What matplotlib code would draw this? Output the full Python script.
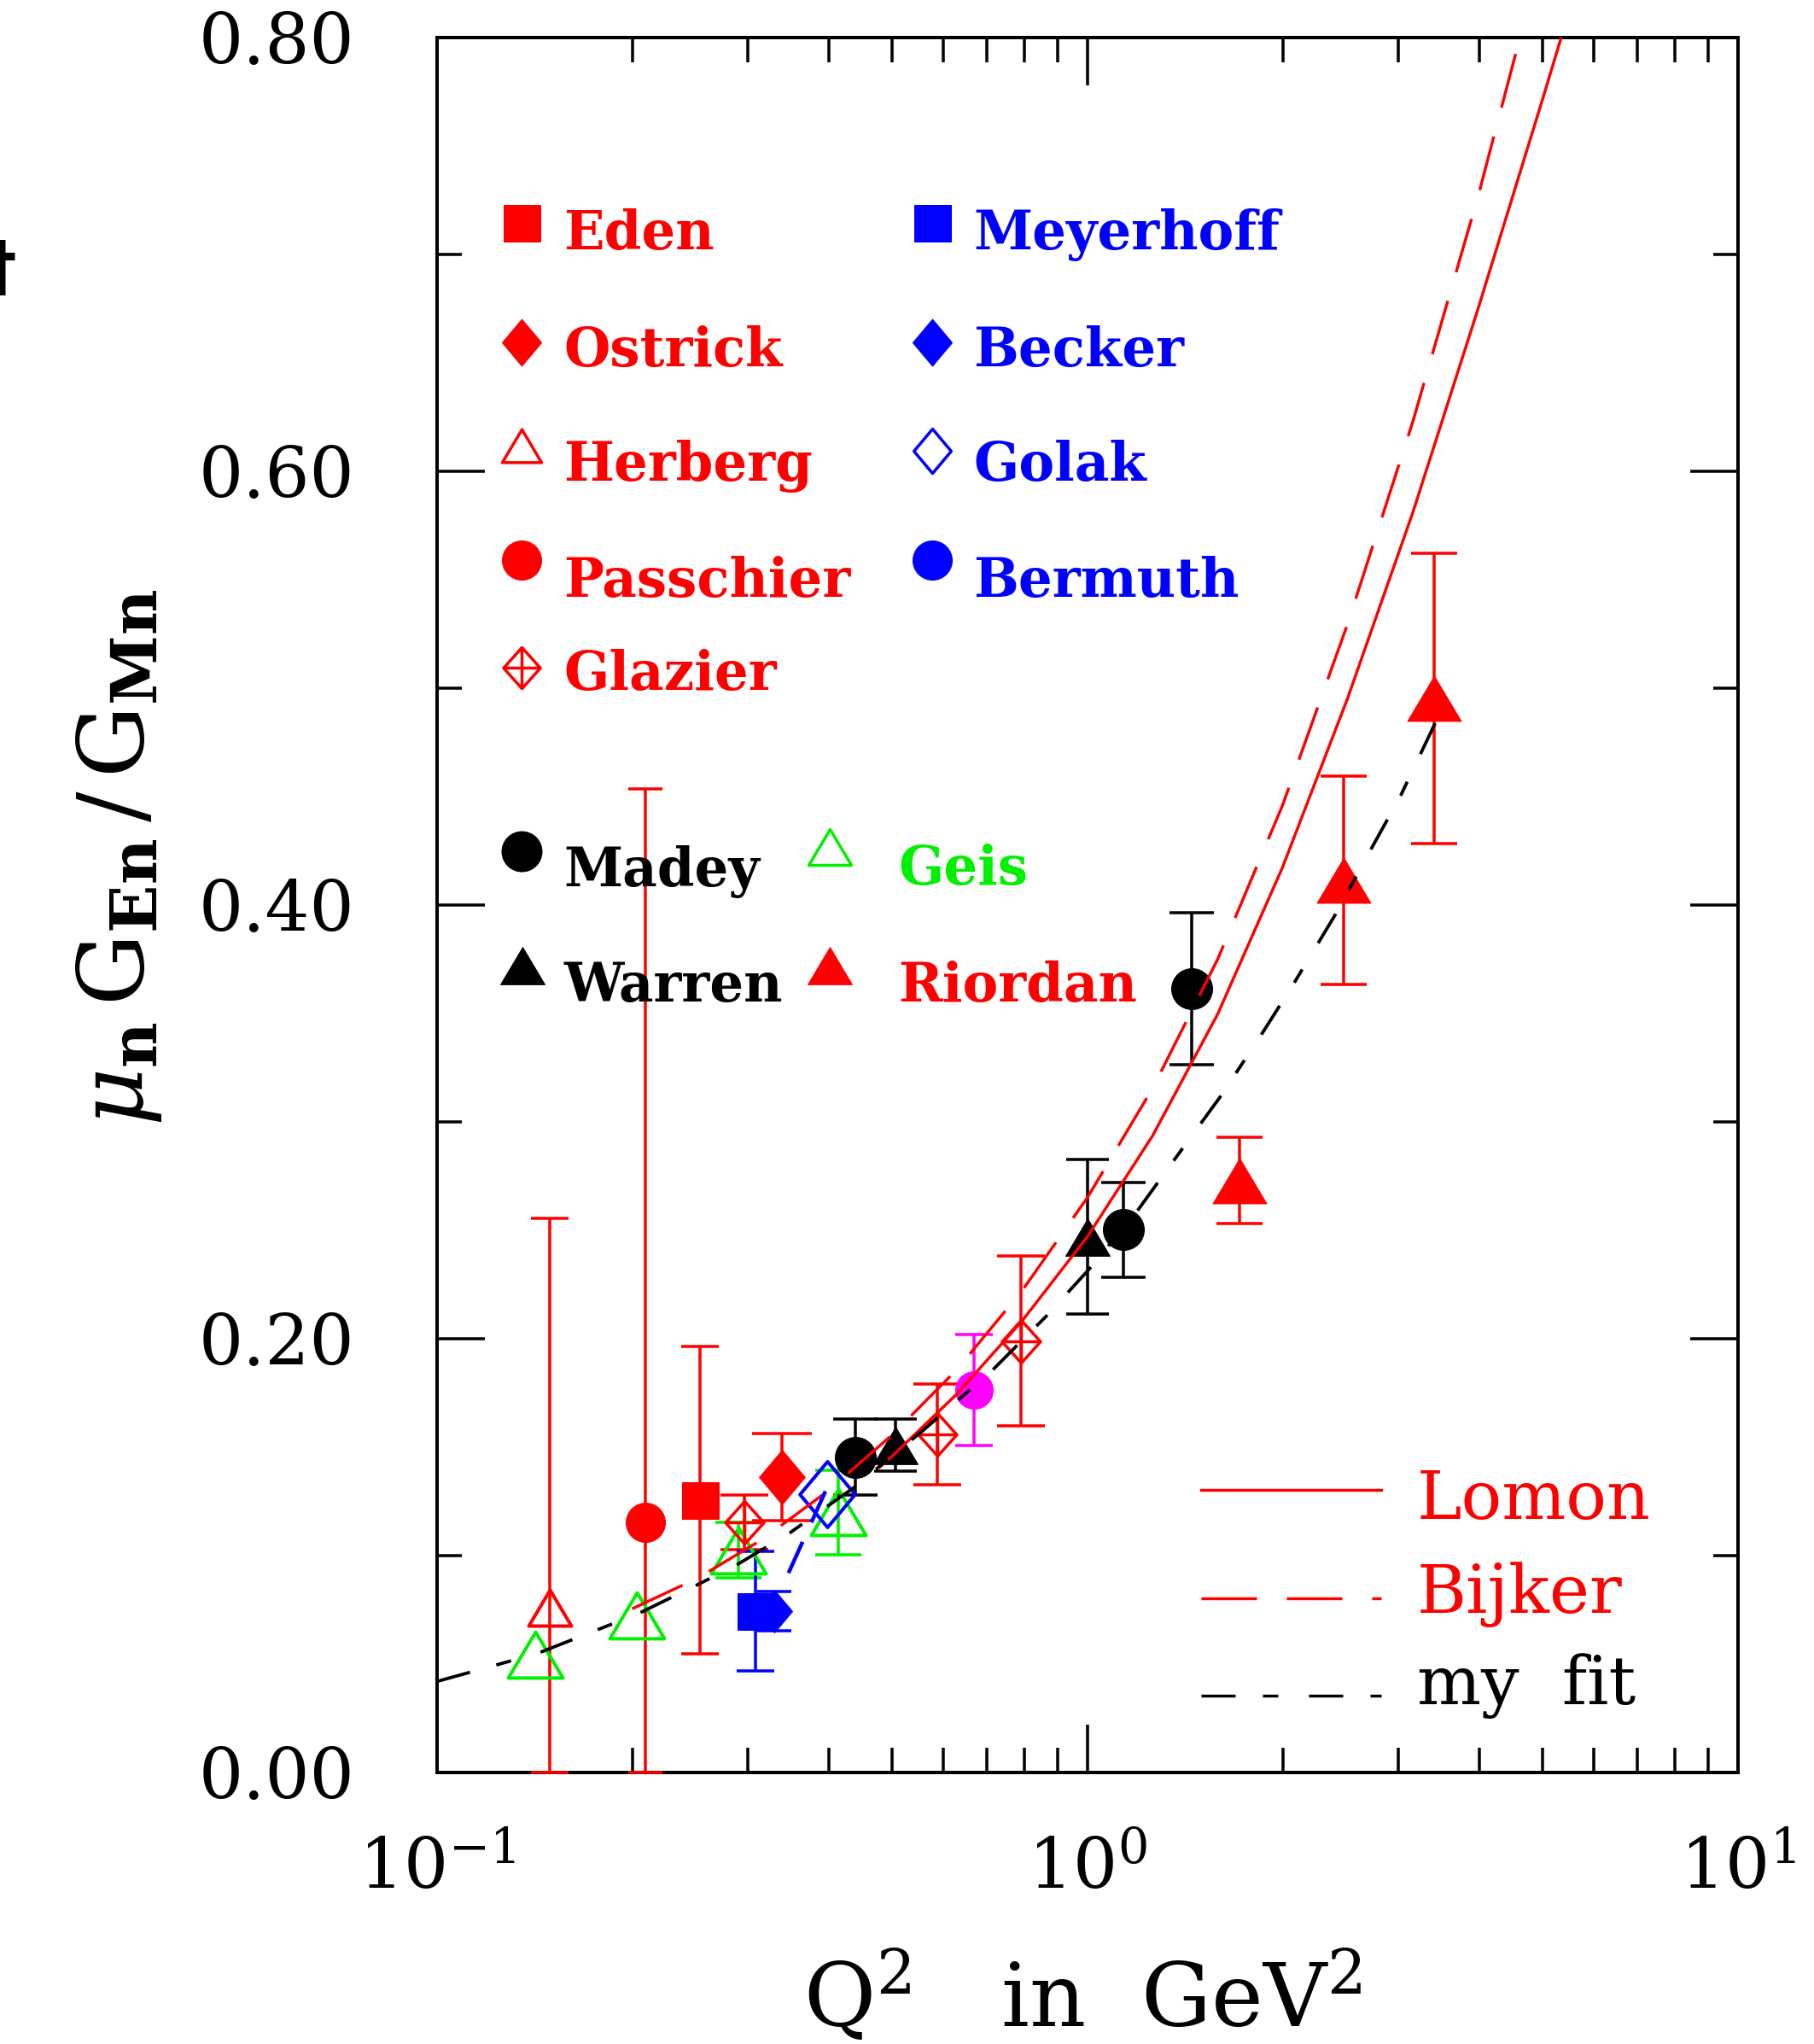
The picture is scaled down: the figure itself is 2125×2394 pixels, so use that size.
import matplotlib
matplotlib.use("Agg")
import matplotlib.pyplot as plt
from matplotlib.path import Path
from matplotlib.lines import Line2D
from matplotlib.ticker import FixedLocator, FixedFormatter, NullFormatter

W, H, DPI = 2125, 2394, 100

plt.rcParams["font.family"] = ["DejaVu Serif"]
plt.rcParams["mathtext.fontset"] = "dejavuserif"
plt.rcParams["lines.scale_dashes"] = False

RED = "#ff0000"
BLUE = "#0000ff"
GREEN = "#00f000"
MAGENTA = "#ff00ff"
BLACK = "#000000"

# ---------------- data: Q^2 [GeV^2] and mu_n G_En / G_Mn ----------------
eden_q2 = [0.254]
eden_val = [0.1257]
eden_err = [0.0709]

ostrick_q2 = [0.339]
ostrick_val = [0.1362]
ostrick_err = [0.020]

herberg_q2 = [0.149]
herberg_val = [0.076]
herberg_err_lo = [0.076]
herberg_err_hi = [0.1795]

passchier_q2 = [0.209]
passchier_val = [0.1152]
passchier_err_lo = [0.1152]
passchier_err_hi = [0.3385]

glazier_q2 = [0.297, 0.588, 0.789]
glazier_val = [0.1153, 0.1559, 0.199]
glazier_err = [0.0125, 0.0234, 0.039]

meyerhoff_q2 = [0.309]
meyerhoff_val = [0.0745]
meyerhoff_err = [0.0275]

becker_q2 = [0.33]
becker_val = [0.0745]
becker_err = [0.009]

golak_q2 = [0.398]
golak_val = [0.1283]

bermuth_q2 = [0.67]
bermuth_val = [0.1763]
bermuth_err = [0.0257]

madey_q2 = [0.44, 1.134, 1.445]
madey_val = [0.1454, 0.2502, 0.3613]
madey_err = [0.0175, 0.0217, 0.035]

warren_q2 = [0.507, 1.0]
warren_val = [0.1508, 0.247]
warren_err = [0.012, 0.0357]

geis_q2 = [0.1416, 0.2026, 0.291, 0.414]
geis_val = [0.0543, 0.0726, 0.1025, 0.120]
geis_err = [0.0, 0.0, 0.0128, 0.0195]

riordan_q2 = [1.714, 2.476, 3.41]
riordan_val = [0.273, 0.4114, 0.4954]
riordan_err = [0.020, 0.048, 0.067]

# model curves
lomon_q2 = [0.48, 0.501, 0.631, 0.794, 1.0, 1.259, 1.585, 1.995, 2.512, 3.162,
            3.981, 5.012, 5.623]
lomon_val = [0.141, 0.1459, 0.1748, 0.2084, 0.2472, 0.2936, 0.3497, 0.4175, 0.4955,
             0.5809, 0.6746, 0.772, 0.8218]

bijker_q2 = [0.1995, 0.2512, 0.3162, 0.3981, 0.5012, 0.631, 0.7943, 1.0, 1.259,
             1.585, 1.995, 2.512, 3.162, 3.981, 5.012]
bijker_val = [0.0755, 0.0895, 0.1075, 0.1296, 0.1558, 0.1861, 0.2224, 0.2652, 0.3155,
              0.375, 0.4461, 0.5298, 0.6228, 0.7264, 0.8401]

fit_q2 = [0.1, 0.1424, 0.2037, 0.2503, 0.288, 0.349, 0.394, 0.4356, 0.56, 0.7135,
          0.864, 1.005, 1.193, 1.36, 1.598, 1.839, 2.076, 2.402, 2.711, 3.03, 3.45]
fit_val = [0.042, 0.0548, 0.0732, 0.0863, 0.0955, 0.1106, 0.1218, 0.131, 0.158, 0.1854,
           0.2104, 0.232, 0.259, 0.2826, 0.3114, 0.339, 0.3639, 0.3954, 0.4243, 0.4505, 0.486]

golak_curve_q2 = [0.347, 0.40]
golak_curve_val = [0.092, 0.133]

yticks = [0.0, 0.2, 0.4, 0.6, 0.8]
ytick_labels = ["0.00", "0.20", "0.40", "0.60", "0.80"]
yticks_minor = [0.1, 0.3, 0.5, 0.7]
xticks = [0.1, 1.0, 10.0]
xtick_labels = [r"$10^{-1}$", r"$10^{0}$", r"$10^{1}$"]
xticks_minor = [m * d for d in (0.1, 1.0) for m in range(2, 10)]


def pt(px):
    """pixels -> points"""
    return px * 72.0 / DPI


def fxy(x, y):
    """pixel position (from top-left) -> figure fraction"""
    return x / W, 1.0 - y / H


# marker shapes
TRI = Path([(0, 0.42), (-0.5, -0.42), (0.5, -0.42), (0, 0.42)],
           [Path.MOVETO, Path.LINETO, Path.LINETO, Path.CLOSEPOLY])
DIAM = Path([(0, 0.5), (0.42, 0), (0, -0.5), (-0.42, 0), (0, 0.5)],
            [Path.MOVETO, Path.LINETO, Path.LINETO, Path.LINETO, Path.CLOSEPOLY])
XDIAM = Path([(0, 0.5), (0.45, 0), (0, -0.5), (-0.45, 0), (0, 0.5),
              (0, 0.5), (0, -0.5), (-0.45, 0), (0.45, 0)],
             [Path.MOVETO, Path.LINETO, Path.LINETO, Path.LINETO, Path.CLOSEPOLY,
              Path.MOVETO, Path.LINETO, Path.MOVETO, Path.LINETO])

fig = plt.figure(figsize=(W / DPI, H / DPI), dpi=DPI)
ax = fig.add_axes([512 / W, 1 - 2076 / H, (2036 - 512) / W, (2076 - 44) / H])
ax.set_xscale("log")
ax.set_xlim(0.1, 10)
ax.set_ylim(0.0, 0.8)

ax.yaxis.set_major_locator(FixedLocator(yticks))
ax.yaxis.set_major_formatter(FixedFormatter(ytick_labels))
ax.yaxis.set_minor_locator(FixedLocator(yticks_minor))
ax.xaxis.set_major_locator(FixedLocator(xticks))
ax.xaxis.set_major_formatter(FixedFormatter(xtick_labels))
ax.xaxis.set_minor_locator(FixedLocator(xticks_minor))
ax.xaxis.set_minor_formatter(NullFormatter())

for s in ax.spines.values():
    s.set_linewidth(pt(4))
ax.tick_params(which="both", direction="in", top=True, right=True, width=pt(3.5))
ax.tick_params(which="major", length=pt(56))
ax.tick_params(which="minor", length=pt(29))
ax.tick_params(axis="y", which="major", labelsize=59, pad=pt(97))
ax.tick_params(axis="x", which="major", labelsize=59, pad=pt(74))


def draw_points(q2, val, lo, hi, color, marker, ms_px, filled, cap_px=25, mew_px=4):
    for q, v, l, h in zip(q2, val, lo, hi):
        if l > 0 or h > 0:
            ax.errorbar([q], [v], yerr=[[l], [h]], fmt="none", ecolor=color,
                        elinewidth=pt(3.5), capsize=pt(cap_px), capthick=pt(3.5),
                        zorder=3, clip_on=False)
    ax.plot(q2, val, ls="none", marker=marker, ms=pt(ms_px),
            mfc=color if filled else "none", mec=color,
            mew=pt(1.0) if filled else pt(mew_px), zorder=4)


draw_points(herberg_q2, herberg_val, herberg_err_lo, herberg_err_hi, RED, TRI, 50, False, cap_px=22)
draw_points(passchier_q2, passchier_val, passchier_err_lo, passchier_err_hi, RED, "o", 46, True, cap_px=20)
draw_points(eden_q2, eden_val, eden_err, eden_err, RED, "s", 43, True, cap_px=22)
draw_points(geis_q2, geis_val, geis_err, geis_err, GREEN, TRI, 64, False, cap_px=27)
draw_points(glazier_q2, glazier_val, glazier_err, glazier_err, RED, XDIAM, 50, False, cap_px=28, mew_px=3.5)
draw_points(meyerhoff_q2, meyerhoff_val, meyerhoff_err, meyerhoff_err, BLUE, "s", 43, True, cap_px=22)
draw_points(becker_q2, becker_val, becker_err, becker_err, BLUE, DIAM, 50, True, cap_px=20)
draw_points(ostrick_q2, ostrick_val, ostrick_err, ostrick_err, RED, DIAM, 64, True, cap_px=35)
draw_points(golak_q2, golak_val, [0], [0], BLUE, DIAM, 77, False, mew_px=4)
draw_points(bermuth_q2, bermuth_val, bermuth_err, bermuth_err, MAGENTA, "o", 44, True, cap_px=22)
draw_points(madey_q2, madey_val, madey_err, madey_err, BLACK, "o", 48, True, cap_px=26)
draw_points(warren_q2, warren_val, warren_err, warren_err, BLACK, TRI, 52, True, cap_px=25)
draw_points(riordan_q2, riordan_val, riordan_err, riordan_err, RED, TRI, 63, True, cap_px=27)

# model curves
LW = pt(3.4)
BIJKER_DASH = (pt(65), pt(35))
FIT_DASH = (pt(40), pt(32), pt(18), pt(36))
ax.plot(lomon_q2, lomon_val, color=RED, lw=LW, zorder=5)
ax.plot(bijker_q2, bijker_val, color=RED, lw=LW, dashes=BIJKER_DASH, zorder=5)
ax.plot(fit_q2, fit_val, color=BLACK, lw=pt(3.8), dashes=FIT_DASH, zorder=5)
ax.plot(golak_curve_q2, golak_curve_val, color=BLUE, lw=pt(4.5), dashes=(pt(40), pt(25)), zorder=5)

# ---------------- legends ----------------
LEG_FS = 45


def leg_marker(x, y, marker, color, ms_px, filled, mew_px=4):
    fx, fy = fxy(x, y)
    fig.add_artist(Line2D([fx], [fy], transform=fig.transFigure, ls="none",
                          marker=marker, ms=pt(ms_px),
                          mfc=color if filled else "none", mec=color,
                          mew=pt(1.0) if filled else pt(mew_px)))


def leg_text(x, y, s, color, bold=True, fs=LEG_FS):
    fx, fy = fxy(x, y)
    fig.text(fx, fy, s, color=color, fontsize=fs, va="baseline", ha="left",
             fontweight="bold" if bold else "normal")


left_entries = [("Eden", "s", 43, True, 261, 292),
                ("Ostrick", DIAM, 55, True, 401, 429),
                ("Herberg", TRI, 46, False, 522, 563),
                ("Passchier", "o", 46, True, 656, 699),
                ("Glazier", XDIAM, 48, False, 782, 808)]
for name, mk, ms, filled, my, ty in left_entries:
    leg_marker(611, my, mk, RED, ms, filled, mew_px=3.5)
    leg_text(660, ty, name, RED)

right_entries = [("Meyerhoff", "s", 43, True, 261, 292),
                 ("Becker", DIAM, 55, True, 401, 429),
                 ("Golak", DIAM, 52, False, 528, 563),
                 ("Bermuth", "o", 46, True, 656, 699)]
for name, mk, ms, filled, my, ty in right_entries:
    leg_marker(1092, my, mk, BLUE, ms, filled, mew_px=3.5)
    leg_text(1140, ty, name, BLUE)

leg_marker(611, 997, "o", BLACK, 47, True)
leg_text(660, 1038, "Madey", BLACK)
leg_marker(612, 1131, TRI, BLACK, 52, True)
leg_text(660, 1173, "Warren", BLACK)
leg_marker(972, 992, TRI, GREEN, 50, False, mew_px=3.5)
leg_text(1052, 1036, "Geis", GREEN)
leg_marker(972, 1131, TRI, RED, 52, True)
leg_text(1052, 1173, "Riordan", RED)

# curve key
for ly, ty, label, color, dash in [(1745, 1779, "Lomon", RED, None),
                                    (1872, 1889, "Bijker", RED, BIJKER_DASH),
                                    (1986, 1996, "my  fit", BLACK, FIT_DASH)]:
    x0, y0 = fxy(1407, ly)
    x1, _ = fxy(1618, ly)
    ln = Line2D([x0, x1], [y0, y0], transform=fig.transFigure, color=color, lw=LW)
    if dash is not None:
        ln.set_dashes(dash)
    fig.add_artist(ln)
    leg_text(1660, ty, label, color, bold=False, fs=57)

# axis titles
fx, fy = fxy(1268, 2374)
fig.text(fx, fy, r"Q$^{2}$   in  GeV$^{2}$", fontsize=74, ha="center", va="baseline")
fx, fy = fxy(140, 1004)
fig.text(fx, fy, r"$\mu_{\mathbf{n}}\,\mathrm{G}_{\mathbf{En}}\,/\,\mathrm{G}_{\mathbf{Mn}}$",
         fontsize=76, rotation=90, ha="center", va="center")

# clipped glyph at the left margin
fx, fy = fxy(0, 316)
fig.text(fx, fy, "\u2020", fontsize=56, ha="center", va="center", fontweight="bold",
         family=["DejaVu Sans"])

fig.savefig("out.png", dpi=DPI)
